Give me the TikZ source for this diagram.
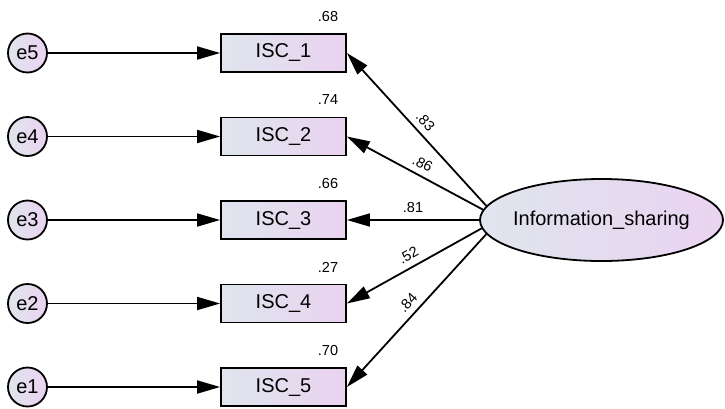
\documentclass[tikz,border=0pt]{standalone}
\usepackage{fontspec}
\setmainfont{Liberation Sans}
\usetikzlibrary{arrows.meta,shapes.geometric}
\definecolor{shL}{HTML}{DFE5EE}
\definecolor{shR}{HTML}{EAD3F0}
\begin{document}
\begin{tikzpicture}[x=1pt,y=-1pt,
  every node/.style={font=\fontsize{20}{24}\selectfont},
  errc/.style={circle,draw,line width=1.8pt,minimum size=39pt,inner sep=0pt,left color=shL,right color=shR},
  obs/.style={rectangle,draw,line width=1.8pt,minimum width=125pt,minimum height=38pt,inner sep=0pt,left color=shL,right color=shR},
  lat/.style={ellipse,draw,line width=1.8pt,minimum width=243pt,minimum height=82pt,inner sep=0pt,left color=shL,right color=shR},
  conn/.style={line width=1.8pt,-{Triangle[length=23pt,width=13pt]}},
  num/.style={font=\fontsize{14.5}{17}\selectfont,inner sep=1pt},
  lbl/.style={num,sloped,above=5pt}
]
\useasboundingbox (0,0) rectangle (725,408);

% error terms and indicators
\node[errc] (e5) at (27.5,53) {e5};
\node[obs]  (b1) at (283.5,53) {ISC\_1};
\node[num]  (r1) at (328,16.5) {.68};

\node[errc] (e4) at (27.5,136.5) {e4};
\node[obs]  (b2) at (283.5,136.5) {ISC\_2};
\node[num]  (r2) at (328,100) {.74};

\node[errc] (e3) at (27.5,220) {e3};
\node[obs]  (b3) at (283.5,220) {ISC\_3};
\node[num]  (r3) at (328,183.5) {.66};

\node[errc] (e2) at (27.5,303.5) {e2};
\node[obs]  (b4) at (283.5,303.5) {ISC\_4};
\node[num]  (r4) at (328,267) {.27};

\node[errc] (e1) at (27.5,387) {e1};
\node[obs]  (b5) at (283.5,387) {ISC\_5};
\node[num]  (r5) at (328,350.5) {.70};

\draw[conn] (e5) -- (b1);
\draw[conn] (e4) -- (b2);
\draw[conn] (e3) -- (b3);
\draw[conn] (e2) -- (b4);
\draw[conn] (e1) -- (b5);

% latent variable
\node[lat] (is) at (601.5,220) {};
\node (ist) at (is.center) {Information\_sharing};

\draw[conn] (is.173)   -- node[lbl,pos=0.5]   {.83} (b1.east);
\draw[conn] (is.175.6) -- node[lbl,pos=0.485] {.86} (b2.east);
\draw[conn] (is.180)   -- node[lbl,pos=0.5]   {.81} (b3.east);
\draw[conn] (is.184.4) -- node[lbl,pos=0.5]   {.52} (b4.east);
\draw[conn] (is.187)   -- node[lbl,pos=0.5]   {.84} (b5.east);
\end{tikzpicture}
\end{document}
